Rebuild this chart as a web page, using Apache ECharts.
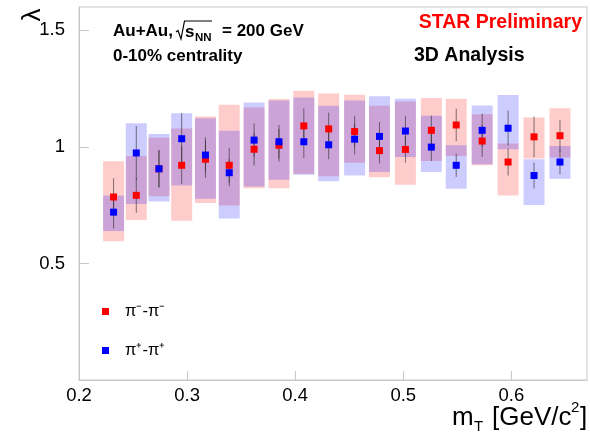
<!DOCTYPE html>
<html>
<head>
<meta charset="utf-8">
<script src="https://cdn.jsdelivr.net/npm/echarts@6/dist/echarts.min.js"></script>
<style>
html, body { margin: 0; padding: 0; background: #fff; }
#chart { width: 590px; height: 436px; }
</style>
</head>
<body>
<div id="chart"></div>
<script>
// bin centres (mT, GeV/c^2)
var mT = [0.232, 0.253, 0.274, 0.295, 0.317, 0.339, 0.362, 0.385, 0.408, 0.431,
	0.455, 0.478, 0.502, 0.526, 0.549, 0.573, 0.597, 0.621, 0.645];

// pi- pi-
var lamMinus = [0.785, 0.792, 0.906, 0.921, 0.947, 0.921, 0.990, 1.007, 1.090, 1.077,
	1.066, 0.984, 0.989, 1.071, 1.094, 1.025, 0.935, 1.043, 1.048];
var statMinus = [0.080, 0.075, 0.080, 0.080, 0.080, 0.075, 0.070, 0.070, 0.075, 0.070,
	0.067, 0.055, 0.057, 0.063, 0.070, 0.068, 0.058, 0.087, 0.068];
var sysLoMinus = [0.595, 0.686, 0.788, 0.683, 0.759, 0.748, 0.823, 0.823, 0.885, 0.874,
	0.932, 0.870, 0.837, 0.939, 0.961, 0.921, 0.791, 0.950, 0.954];
var sysHiMinus = [0.938, 0.961, 1.039, 1.079, 1.130, 1.181, 1.169, 1.205, 1.241, 1.229,
	1.224, 1.176, 1.195, 1.210, 1.206, 1.140, 1.015, 1.126, 1.166];

// pi+ pi+
var lamPlus = [0.720, 0.974, 0.906, 1.035, 0.965, 0.889, 1.029, 1.022, 1.022, 1.009,
	1.033, 1.045, 1.068, 0.999, 0.921, 1.071, 1.080, 0.877, 0.935];
var statPlus = [0.071, 0.116, 0.080, 0.110, 0.076, 0.058, 0.072, 0.072, 0.070, 0.062,
	0.065, 0.061, 0.065, 0.060, 0.050, 0.071, 0.075, 0.055, 0.053];
var sysLoPlus = [0.639, 0.755, 0.766, 0.834, 0.777, 0.693, 0.830, 0.859, 0.880, 0.853,
	0.877, 0.892, 0.957, 0.892, 0.820, 0.925, 0.990, 0.751, 0.863];
var sysHiPlus = [0.791, 1.101, 1.055, 1.144, 1.123, 1.069, 1.190, 1.199, 1.212, 1.176,
	1.199, 1.217, 1.206, 1.134, 1.007, 1.178, 1.222, 0.947, 1.004];

var xTicks = [0.2, 0.3, 0.4, 0.5, 0.6];
var yTicks = [0.5, 1, 1.5];

var FONT = 'Liberation Sans, Arial, sans-serif';

function zip3(a, b, c){
	var out = [];
	for(var i = 0; i < a.length; i++){
		out.push([a[i], b[i], c[i]]);
	}
	return out;
}

// systematic box
function boxItem(color){
	return function(params, api){
		var top = api.coord([api.value(0), api.value(2)]);
		var bot = api.coord([api.value(0), api.value(1)]);
		return {
			type: 'rect',
			shape: { x: top[0] - 10.5, y: top[1], width: 21, height: bot[1] - top[1] },
			style: { fill: color }
		};
	};
}

// stat error bar
function errItem(params, api){
	var v = api.value(1), e = api.value(2);
	var p1 = api.coord([api.value(0), v + e]);
	var p2 = api.coord([api.value(0), v - e]);
	return {
		type: 'line',
		shape: { x1: p1[0], y1: p1[1], x2: p2[0], y2: p2[1] },
		style: { stroke: 'rgba(40,40,40,0.6)', lineWidth: 1 }
	};
}

function txt(x, y, s, font, extra){
	var style = { text: s, font: font, fill: '#000', verticalAlign: 'middle' };
	for(var k in extra){ style[k] = extra[k]; }
	return { type: 'text', x: x, y: y, style: style };
}

var myChart = echarts.init(document.getElementById('chart'));
var option = {
	animation: false,
	backgroundColor: '#fff',
	grid: {
		left: 79, top: 7, right: 3, bottom: 56,
		show: true, borderColor: '#c8c8c8', borderWidth: 1
	},
	xAxis: {
		type: 'value',
		min: 0.2, max: 0.67, interval: 0.1,
		axisLine: { lineStyle: { color: '#c8c8c8' } },
		axisTick: { inside: true, length: 9, lineStyle: { color: '#c8c8c8' } },
		axisLabel: {
			showMaxLabel: false, margin: 6,
			fontSize: 18.5, fontFamily: FONT, color: '#000',
			formatter: function(v){ return xTicks.indexOf(Math.round(v * 10) / 10) >= 0 ? String(v) : ''; }
		},
		splitLine: { show: false }
	},
	yAxis: {
		type: 'value',
		min: 0, max: 1.6, interval: 0.5,
		axisLine: { lineStyle: { color: '#c8c8c8' } },
		axisTick: { inside: true, length: 10, lineStyle: { color: '#c8c8c8' } },
		axisLabel: {
			showMinLabel: false, showMaxLabel: false, margin: 14,
			fontSize: 18.5, fontFamily: FONT, color: '#000',
			formatter: function(v){ return yTicks.indexOf(v) >= 0 ? String(v) : ''; }
		},
		splitLine: { show: false }
	},
	legend: {
		orient: 'vertical',
		left: 102, top: 303, padding: 0,
		itemWidth: 7, itemHeight: 7, itemGap: 22,
		icon: 'rect',
		textStyle: { fontSize: 16.5, fontFamily: FONT, color: '#000', padding: [0, 0, 0, 11] },
		data: ['π⁻-π⁻', 'π⁺-π⁺']
	},
	series: [
		{
			type: 'custom', name: 'sysMinus', renderItem: boxItem('rgba(255,0,0,0.2)'),
			data: zip3(mT, sysLoMinus, sysHiMinus), z: 1
		},
		{
			type: 'custom', name: 'sysPlus', renderItem: boxItem('rgba(0,0,255,0.2)'),
			data: zip3(mT, sysLoPlus, sysHiPlus), z: 1
		},
		{
			type: 'custom', name: 'errMinus', renderItem: errItem,
			data: zip3(mT, lamMinus, statMinus), z: 2
		},
		{
			type: 'custom', name: 'errPlus', renderItem: errItem,
			data: zip3(mT, lamPlus, statPlus), z: 2
		},
		{
			type: 'scatter', name: 'π⁻-π⁻', symbol: 'rect', symbolSize: 7,
			itemStyle: { color: '#ff0000', opacity: 1 },
			data: mT.map(function(x, i){ return [x, lamMinus[i]]; }), z: 3
		},
		{
			type: 'scatter', name: 'π⁺-π⁺', symbol: 'rect', symbolSize: 7,
			itemStyle: { color: '#0000ff', opacity: 1 },
			data: mT.map(function(x, i){ return [x, lamPlus[i]]; }), z: 4
		}
	],
	graphic: [
		txt(113, 31, 'Au+Au,', 'bold 17px ' + FONT),
		{ type: 'polyline', shape: { points: [[176, 32], [178, 30.5], [181, 39], [184.5, 21], [212, 21]] },
			style: { stroke: '#000', lineWidth: 1.2, fill: null } },
		txt(185, 32, 's', 'bold 17px ' + FONT),
		txt(195, 37.5, 'NN', 'bold 11.5px ' + FONT),
		txt(222, 31, '= 200 GeV', 'bold 17px ' + FONT),
		txt(113, 56, '0-10% centrality', 'bold 17px ' + FONT),
		txt(582, 23, 'STAR Preliminary', 'bold 19.5px ' + FONT, { fill: '#ff0000', align: 'right' }),
		txt(414, 56, '3D Analysis', 'bold 19.5px ' + FONT),
		{ type: 'text', x: 33, y: 15, rotation: Math.PI / 2,
			style: { text: 'λ', font: '26px ' + FONT, fill: '#000', align: 'center', verticalAlign: 'middle' } },
		// x axis title m_T [GeV/c^2]
		txt(452, 418, 'm', '26px ' + FONT),
		txt(474, 427, 'T', '15px ' + FONT),
		txt(492, 418, '[GeV/c', '26px ' + FONT),
		txt(571, 408, '2', '15px ' + FONT),
		txt(580, 418, ']', '26px ' + FONT)
	]
};
myChart.setOption(option);
</script>
</body>
</html>
